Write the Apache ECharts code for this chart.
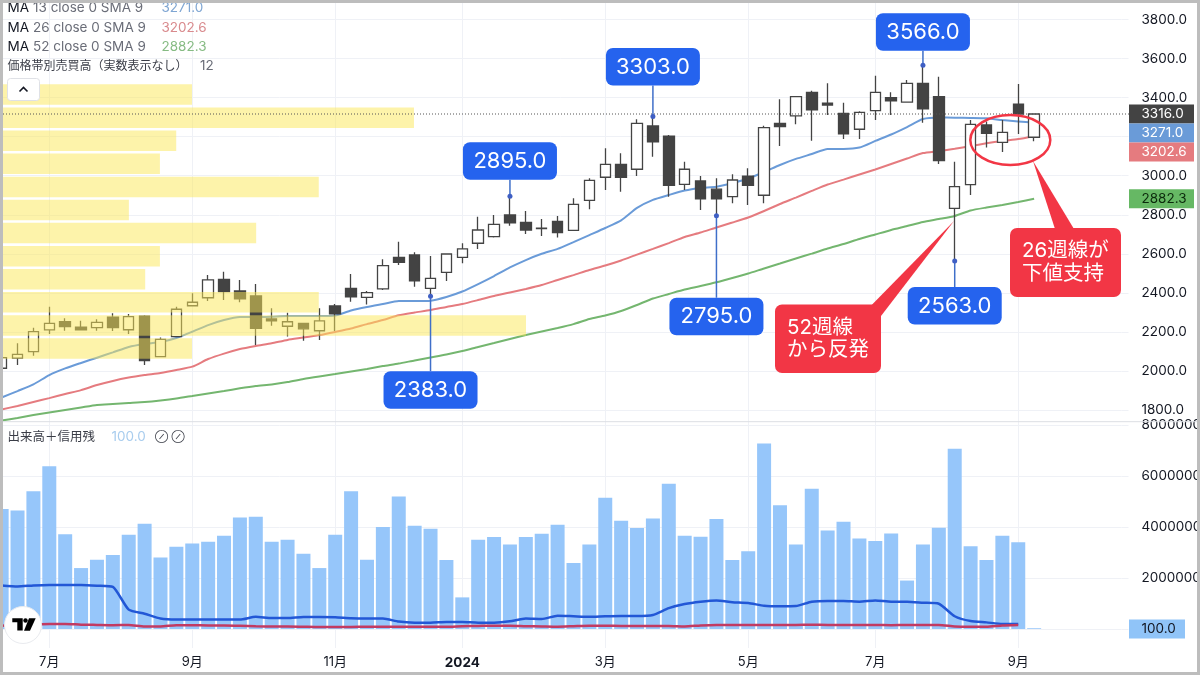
<!DOCTYPE html>
<html>
<head>
<meta charset="utf-8">
<style>
  html, body { margin: 0; padding: 0; background: #fff; }
  #chart { width: 1200px; height: 675px; }
</style>
<script src="https://cdn.jsdelivr.net/npm/echarts@6/dist/echarts.min.js"></script>
</head>
<body>
<div id="chart"></div>
<script>
const weeks = [
  '2023-06-12','2023-06-19','2023-06-26','2023-07-03','2023-07-10','2023-07-17','2023-07-24','2023-07-31',
  '2023-08-07','2023-08-14','2023-08-21','2023-08-28','2023-09-04','2023-09-11','2023-09-18','2023-09-25',
  '2023-10-02','2023-10-09','2023-10-16','2023-10-23','2023-10-30','2023-11-06','2023-11-13','2023-11-20',
  '2023-11-27','2023-12-04','2023-12-11','2023-12-18','2023-12-25','2024-01-01','2024-01-08','2024-01-15',
  '2024-01-22','2024-01-29','2024-02-05','2024-02-12','2024-02-19','2024-02-26','2024-03-04','2024-03-11',
  '2024-03-18','2024-03-25','2024-04-01','2024-04-08','2024-04-15','2024-04-22','2024-04-29','2024-05-06',
  '2024-05-13','2024-05-20','2024-05-27','2024-06-03','2024-06-10','2024-06-17','2024-06-24','2024-07-01',
  '2024-07-08','2024-07-15','2024-07-22','2024-07-29','2024-08-05','2024-08-12','2024-08-19','2024-08-26',
  '2024-09-02','2024-09-09','2024-09-16','2024-09-23','2024-09-30','2024-10-07','2024-10-14'
]
const tickWeeks = ['2023-07-03','2023-09-04','2023-11-06','2024-01-01','2024-03-04','2024-05-06','2024-07-01','2024-09-02']
const tickLabels = ['7月','9月','11月','2024','3月','5月','7月','9月']

const opens = [2014,2066,2099,2210,2252,2225,2222,2275,2211,2281,2073,2176,2334,2375,2469,2410,2384,2266,2229,2244,2206,2333,2423,2377,2420,2582,2594,2423,2505,2582,2654,2688,2799,2761,2732,2766,2720,2874,2992,3058,3033,3255,3203,2956,2973,2931,2893,2998,2900,3268,3306,3427,3371,3319,3238,3333,3400,3377,3473,3405,2833,2954,3260,3171,3367,3197]
const closes = [2068,2085,2201,2244,2227,2210,2249,2222,2278,2053,2162,2316,2352,2466,2406,2369,2218,2256,2252,2216,2257,2292,2380,2401,2539,2556,2462,2474,2599,2625,2722,2751,2759,2722,2729,2708,2853,2976,3058,2992,3268,3174,2951,3033,2882,2882,2978,2951,3246,3251,3405,3337,3362,3214,3324,3427,3383,3473,3343,3077,2944,3263,3217,3222,3316,3316]
const lows = [2014,2030,2078,2189,2206,2210,2206,2205,2189,2030,2073,2176,2334,2358,2363,2352,2133,2232,2176,2155,2158,2205,2355,2341,2415,2543,2431,2383,2461,2551,2625,2683,2744,2701,2691,2683,2720,2828,2927,2918,2998,3097,2892,2927,2824,2795,2859,2850,2859,3152,3263,3179,3311,3188,3188,3285,3311,3374,3271,3060,2563,2901,3145,3121,3214,3177]
const highs = [2068,2142,2221,2329,2270,2257,2265,2295,2292,2285,2172,2329,2398,2491,2508,2466,2445,2321,2298,2244,2321,2343,2497,2410,2572,2662,2608,2589,2599,2654,2790,2799,2895,2819,2778,2793,2884,2987,3140,3115,3289,3303,3208,3072,2998,2987,3007,3038,3256,3391,3405,3435,3473,3374,3330,3512,3427,3490,3566,3507,3072,3285,3277,3285,3470,3320]

const ma13 = [1864,1897,1931,1979,2013,2041,2068,2095,2123,2138,2148,2169,2201,2235,2261,2276,2276,2278,2281,2281,2281,2284,2310,2328,2343,2358,2358,2360,2379,2407,2445,2486,2530,2568,2600,2625,2660,2696,2732,2771,2835,2876,2901,2924,2937,2944,2963,2986,3019,3055,3086,3111,3137,3137,3144,3178,3211,3249,3290,3298,3297,3296,3294,3285,3278,3271.0]
const ma26 = [1803,1821,1841,1861,1882,1902,1928,1949,1966,1979,1990,2005,2022,2061,2089,2112,2128,2142,2159,2171,2184,2200,2217,2240,2261,2285,2299,2312,2328,2343,2363,2384,2402,2420,2440,2466,2491,2517,2540,2566,2596,2625,2655,2686,2709,2735,2760,2786,2819,2855,2888,2922,2955,2980,3006,3032,3060,3088,3116,3126,3138,3152,3166,3178,3188,3202.6]
const ma52 = [1746,1759,1774,1787,1800,1813,1826,1831,1836,1841,1849,1859,1872,1885,1897,1911,1923,1931,1943,1959,1972,1984,1997,2010,2025,2038,2054,2069,2084,2102,2123,2143,2164,2184,2202,2220,2240,2266,2284,2307,2338,2371,2394,2417,2435,2454,2476,2499,2525,2550,2576,2601,2627,2650,2676,2699,2722,2742,2763,2778,2794,2822,2837,2850,2865,2882.3]

// volume and margin balances, in millions of shares
const volumeM = [47.1,46.5,54.0,63.8,37.2,23.9,27.2,29.0,37.0,41.3,28.0,32.3,33.5,34.2,36.6,43.7,44.0,34.2,35.0,29.5,23.9,37.0,54.0,27.2,40.0,52.0,40.5,39.3,27.1,12.4,35.0,36.1,33.1,36.1,37.4,40.9,25.9,33.1,51.5,42.5,39.6,43.3,57.0,36.6,36.2,43.1,27.1,30.5,72.7,48.5,33.1,55.0,38.6,42.1,35.5,34.5,37.5,19.0,33.1,39.7,70.7,32.5,27.1,36.6,34.0,0.3]
const marginBuyM = [17.1,16.7,17.1,17.3,17.3,17.3,17.0,16.5,7.6,6.0,4.1,3.7,3.7,3.7,3.7,3.7,4.8,4.3,4.3,4.7,4.7,4.6,4.2,4.1,4.1,2.9,2.5,2.5,2.7,2.7,2.5,2.5,3.0,4.1,3.9,5.2,5.0,4.8,5.0,5.1,5.1,5.5,8.2,9.8,10.7,11.2,10.5,10.2,9.1,8.9,9.0,10.7,11.0,11.0,10.7,11.2,10.7,10.7,10.3,9.9,5.0,3.1,2.6,2.0,2.0]
const marginSellM = [1.3,1.6,1.8,2.0,2.0,1.7,1.6,1.5,1.6,1.0,1.0,1.5,1.5,1.4,1.4,1.3,1.1,1.0,1.0,0.9,0.8,0.8,0.8,0.9,0.9,0.9,0.9,0.9,0.9,1.1,1.2,1.3,1.3,1.1,1.0,0.9,1.1,1.3,1.3,1.2,1.2,1.2,1.2,1.0,1.4,1.6,1.6,1.6,1.6,1.6,1.6,1.7,1.6,1.6,1.6,1.6,1.5,1.6,1.6,1.6,1.0,0.9,0.9,1.4,1.6]

// price-band volume, top band first, 100 = biggest band
const profileBands = [12,11,10,9,8,7,6,5,4,3,2,1]
const profileVolume = [36.5,78.7,33.5,30.4,60.6,24.5,48.7,30.4,27.6,60.6,100,36.5]

const priceTicks = [1800,2000,2200,2400,2600,2800,3000,3200,3400,3600,3800]
const volumeTicksM = [0,20,40,60,80]

const calloutWeeks = [27,32,41,45,58,60]
const calloutPrices = [2383.0,2895.0,3303.0,2795.0,3566.0,2563.0]
const calloutBoxDy = [75,-54,-68.5,82,-52,26]

const lastClose = 3316.0
const tagValues = [3316.0,3271.0,3202.6,2882.3]
const tagShift = [0,10.2,15.9,0]
const tagFill = ['#434343','#6a9bd8','#e57b7f','#66b864']
const tagText = ['#ffffff','#ffffff','#ffffff','#0c2a0c']

const FONT = 'Inter, "Noto Sans CJK JP", sans-serif'
const GRIDLINE = '#eff1f6'
const RED = '#f23645'
const BLUE = '#2563ee'

const isTick = (i) => tickWeeks.includes(weeks[i])

const xBase = {
  type: 'category',
  data: weeks,
  boundaryGap: true,
  axisLine: { show: false },
  axisTick: { show: false, alignWithLabel: true, interval: isTick },
  splitLine: { show: true, alignWithLabel: true, interval: isTick, lineStyle: { color: GRIDLINE, width: 1 } }
}

const tickStyle = { show: true, length: 7, lineStyle: { color: GRIDLINE, width: 1 } }

const chart = echarts.init(document.getElementById('chart'))

chart.setOption({
  animation: false,
  backgroundColor: '#ffffff',
  textStyle: { fontFamily: FONT },
  grid: [
    { left: -6.3, top: 3, width: 1127.8, height: 419, outerBoundsMode: 'none' },
    { left: -6.3, top: 422, width: 1127.8, height: 226, outerBoundsMode: 'none' },
    { left: 0, top: 83, width: 526, height: 277, outerBoundsMode: 'none' }
  ],
  xAxis: [
    Object.assign({}, xBase, { gridIndex: 0, axisLabel: { show: false } }),
    Object.assign({}, xBase, {
      gridIndex: 1,
      axisLabel: {
        show: true,
        interval: isTick,
        margin: 8,
        color: '#131722',
        fontSize: 13,
        fontFamily: FONT,
        formatter: (v) => {
          const label = tickLabels[tickWeeks.indexOf(v)]
          return label === '2024' ? '{b|2024}' : label
        },
        rich: { b: { fontWeight: 'bold', fontSize: 13.5, fontFamily: FONT, color: '#131722' } }
      }
    }),
    { type: 'value', gridIndex: 2, min: 0, max: 100, show: false }
  ],
  yAxis: [
    {
      type: 'value', gridIndex: 0, position: 'right',
      min: 1738.6, max: 3884.5,
      axisLine: { show: false },
      axisTick: Object.assign({ customValues: priceTicks }, tickStyle),
      splitLine: { show: true, lineStyle: { color: GRIDLINE, width: 1 } },
      axisLabel: {
        customValues: priceTicks, margin: 20, color: '#131722', fontSize: 13.5, fontFamily: FONT,
        formatter: (v) => v.toFixed(1)
      }
    },
    {
      type: 'value', gridIndex: 1, position: 'right',
      min: -7.45, max: 81.18,
      axisLine: { show: false },
      axisTick: Object.assign({ customValues: volumeTicksM }, tickStyle),
      splitLine: { show: true, lineStyle: { color: GRIDLINE, width: 1 } },
      axisLabel: {
        customValues: volumeTicksM, margin: 20, color: '#131722', fontSize: 13.5, fontFamily: FONT,
        formatter: (v) => (v === 0 ? '' : String(v * 1000000))
      }
    },
    { type: 'category', gridIndex: 2, data: profileBands, inverse: true, show: false }
  ],
  series: [
    {
      name: 'MA 13', type: 'line', xAxisIndex: 0, yAxisIndex: 0, data: ma13, z: 2,
      showSymbol: false, smooth: 0.2, lineStyle: { color: '#6a9bd8', width: 2 }
    },
    {
      name: 'MA 26', type: 'line', xAxisIndex: 0, yAxisIndex: 0, data: ma26, z: 2,
      showSymbol: false, smooth: 0.2, lineStyle: { color: '#e57b7f', width: 2 }
    },
    {
      name: 'MA 52', type: 'line', xAxisIndex: 0, yAxisIndex: 0, data: ma52, z: 2,
      showSymbol: false, smooth: 0.2, lineStyle: { color: '#74b66f', width: 2 }
    },
    {
      name: '週足', type: 'candlestick', xAxisIndex: 0, yAxisIndex: 0, z: 3,
      barWidth: 11,
      data: opens.map((o, i) => [o, closes[i], lows[i], highs[i]]),
      itemStyle: { color: '#ffffff', color0: '#434343', borderColor: '#444444', borderColor0: '#434343', borderWidth: 1.3 }
    },
    {
      name: '価格帯別売買高', type: 'bar', xAxisIndex: 2, yAxisIndex: 2, data: profileVolume, z: 4,
      barWidth: 20.5, itemStyle: { color: 'rgba(251,231,85,0.5)' }, silent: true
    },
    {
      name: '出来高', type: 'bar', xAxisIndex: 1, yAxisIndex: 1, data: volumeM, z: 2,
      barWidth: 14, itemStyle: { color: '#96c6fa' }
    },
    {
      name: '信用買残', type: 'line', xAxisIndex: 1, yAxisIndex: 1, data: marginBuyM, z: 3,
      showSymbol: false, smooth: 0.2, lineStyle: { color: '#2257d6', width: 2.5 }
    },
    {
      name: '信用売残', type: 'line', xAxisIndex: 1, yAxisIndex: 1, data: marginSellM, z: 3,
      showSymbol: false, smooth: 0.2, lineStyle: { color: '#c23a62', width: 2.5 }
    }
  ]
})

// annotations that sit on the data: positions come from the chart's own scales
const toPx = (i, price) => chart.convertToPixel({ gridIndex: 0 }, [i, price])
const items = []

function txt(x, y, text, fill, size, extra) {
  return Object.assign({
    type: 'text', z: 30, x: x, y: y,
    style: { text: text, fill: fill, font: size + 'px ' + FONT, verticalAlign: 'middle' }
  }, extra || {})
}

// last price dotted line
const closeY = toPx(0, lastClose)[1]
items.push({
  type: 'line', z: 10, silent: true,
  shape: { x1: 3, y1: closeY, x2: 1129, y2: closeY },
  style: { stroke: '#555555', lineWidth: 1, lineDash: [1, 2] }
})

// blue price notes
calloutWeeks.forEach((w, n) => {
  const p = toPx(w, calloutPrices[n])
  const top = p[1] + calloutBoxDy[n]
  const edge = calloutBoxDy[n] > 0 ? top : top + 37.5
  items.push({ type: 'line', z: 12, shape: { x1: p[0], y1: p[1], x2: p[0], y2: edge }, style: { stroke: '#3f6fc9', lineWidth: 1.5 } })
  items.push({ type: 'circle', z: 13, shape: { cx: p[0], cy: p[1], r: 2.5 }, style: { fill: '#3f5fc4' } })
  items.push({ type: 'rect', z: 14, shape: { x: p[0] - 47, y: top, width: 94, height: 37.5, r: 7 }, style: { fill: BLUE } })
  items.push(txt(p[0], top + 19, calloutPrices[n].toFixed(1), '#ffffff', 22, { z: 15, style: { text: calloutPrices[n].toFixed(1), fill: '#ffffff', font: '22px ' + FONT, align: 'center', verticalAlign: 'middle' } }))
})

// red speech bubbles
items.push({ type: 'polygon', z: 16, shape: { points: [[871.7, 305], [881, 316], [954, 221]] }, style: { fill: RED } })
items.push({ type: 'rect', z: 16, shape: { x: 775, y: 304.5, width: 106, height: 68.5, r: 7 }, style: { fill: RED } })
items.push(txt(787, 327.5, '52週線', '#ffffff', 20.5))
items.push(txt(787, 349.5, 'から反発', '#ffffff', 20.5))

items.push({ type: 'polygon', z: 16, shape: { points: [[1055, 229], [1074, 229], [1033, 161]] }, style: { fill: RED } })
items.push({ type: 'rect', z: 16, shape: { x: 1010, y: 228, width: 111, height: 69, r: 7 }, style: { fill: RED } })
items.push(txt(1022, 251, '26週線が', '#ffffff', 20.5))
items.push(txt(1022, 273.5, '下値支持', '#ffffff', 20.5))

items.push({
  type: 'ellipse', z: 17,
  shape: { cx: 1010.3, cy: 140, rx: 40, ry: 25 },
  style: { fill: 'none', stroke: RED, lineWidth: 2.5 }
})

// price scale tags
tagValues.forEach((v, n) => {
  const cy = toPx(0, v)[1] + tagShift[n]
  items.push({ type: 'rect', z: 20, shape: { x: 1129, y: cy - 9.5, width: 65, height: 19 }, style: { fill: tagFill[n] } })
  items.push(txt(1141.5, cy, v.toFixed(1), tagText[n], 13.5))
})
const zeroY = chart.convertToPixel({ yAxisIndex: 1 }, 0)
items.push({ type: 'rect', z: 20, shape: { x: 1129, y: zeroY - 9.5, width: 56, height: 19 }, style: { fill: '#90c4f8' } })
items.push(txt(1141.5, zeroY, '100.0', '#131722', 13.5))

// pane separator
items.push({ type: 'line', z: 8, shape: { x1: 0, y1: 421.7, x2: 1200, y2: 421.7 }, style: { stroke: '#dcdee3', lineWidth: 1 } })

// legend block
const legendRows = [
  ['13', '3271.0', '#7fa6d3', 8],
  ['26', '3202.6', '#d98a8d', 27.5],
  ['52', '2882.3', '#86bb83', 47]
]
legendRows.forEach((r) => {
  items.push(txt(7.5, r[3], 'MA', '#131722', 13.5))
  items.push(txt(33, r[3], r[0] + ' close 0 SMA 9', '#6a6d78', 13.5))
  items.push(txt(161.5, r[3], r[1], r[2], 13.5))
})
items.push(txt(7.5, 66, '価格帯別売買高（実数表示なし）', '#3a3d47', 12))
items.push(txt(200, 66, '12', '#6a6d78', 13.5))
items.push({ type: 'rect', z: 30, shape: { x: 7.5, y: 78.5, width: 32, height: 22, r: 3 }, style: { fill: '#ffffff', stroke: '#dfe1e6', lineWidth: 1 } })
items.push({ type: 'polyline', z: 31, shape: { points: [[19.5, 91.5], [23.5, 87.5], [27.5, 91.5]] }, style: { fill: 'none', stroke: '#131722', lineWidth: 1.6 } })

items.push(txt(7.5, 437, '出来高＋信用残', '#3a3d47', 12.5))
items.push(txt(111.5, 437, '100.0', '#a9cdee', 13.5))
items.push(txt(155, 437, '⊘', '#3a3d47', 9.5))
items.push(txt(171.5, 437, '⊘', '#3a3d47', 9.5))

// TradingView badge
items.push({ type: 'circle', z: 33, shape: { cx: 23, cy: 625, r: 18.5 }, style: { fill: '#ffffff', stroke: '#e9ebef', lineWidth: 1 } })
items.push({ type: 'polygon', z: 34, shape: { points: [[12.3, 618.3], [22.7, 618.3], [22.7, 630.5], [17.3, 630.5], [17.3, 622.3], [12.3, 622.3]] }, style: { fill: '#000000' } })
items.push({ type: 'circle', z: 34, shape: { cx: 25.5, cy: 620.5, r: 2.2 }, style: { fill: '#000000' } })
items.push({ type: 'polygon', z: 34, shape: { points: [[29, 618.3], [35.7, 618.3], [30, 630.7], [24, 630.7]] }, style: { fill: '#000000' } })

// screenshot frame
items.push({ type: 'rect', z: 40, shape: { x: 1.5, y: 1.5, width: 1197, height: 672 }, style: { fill: 'none', stroke: '#bdbdbd', lineWidth: 3 } })

chart.setOption({ graphic: { elements: items } })
</script>
</body>
</html>
